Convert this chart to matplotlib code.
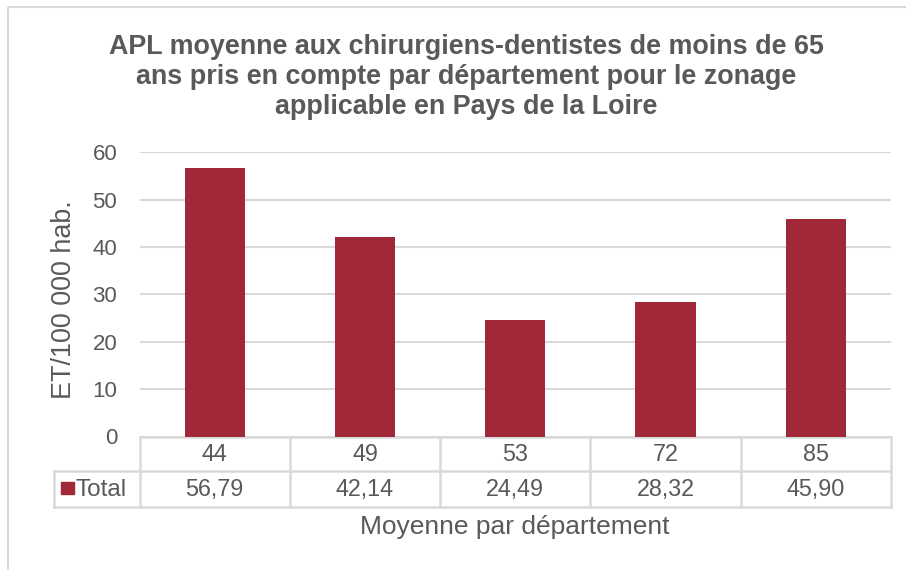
import matplotlib
matplotlib.use("Agg")
import matplotlib.pyplot as plt
from matplotlib.transforms import blended_transform_factory
from matplotlib.patches import Rectangle

departements = ["44", "49", "53", "72", "85"]
valeurs = [56.79, 42.14, 24.49, 28.32, 45.90]
serie = "Total"
titre = ("APL moyenne aux chirurgiens-dentistes de moins de 65\n"
         "ans pris en compte par département pour le zonage\n"
         "applicable en Pays de la Loire")
ylabel = "ET/100 000 hab."
xlabel = "Moyenne par département"
yticks = [0, 10, 20, 30, 40, 50, 60]

plt.rcParams['font.family'] = ['Liberation Sans', 'DejaVu Sans']
TXT = "#595959"
GRID = "#d9d9d9"
BAR = "#A12838"
FS = 16
FS_TAB = 16.8

W, H = 906, 570
fig = plt.figure(figsize=(W / 100, H / 100), dpi=100)

# overlay in pixel coordinates
ov = fig.add_axes([0, 0, 1, 1])
ov.set_xlim(0, W)
ov.set_ylim(H, 0)
ov.axis("off")

x0, x1 = 139.5, 891
ytop, ybot = 152.3, 436.5
ax = fig.add_axes([x0 / W, (H - ybot) / H, (x1 - x0) / W, (ybot - ytop) / H])
xs = list(range(len(departements)))
ax.bar(xs, valeurs, width=0.4, color=BAR, zorder=3)
ax.set_xlim(-0.5, len(departements) - 0.5)
ax.set_ylim(0, 60)
ax.set_yticks(yticks)
ax.set_yticklabels([str(t) for t in yticks], fontsize=FS, color=TXT)
ax.tick_params(axis="y", length=0, pad=16)
ax.set_xticks([])
ax.grid(axis="y", color=GRID, linewidth=1.5, zorder=0)
for s in ax.spines.values():
    s.set_visible(False)
ax.patch.set_alpha(0)

# outer border (top and left only visible)
ov.plot([7.5, W], [7, 7], color=GRID, lw=1.5, solid_capstyle="butt")
ov.plot([7.5, 7.5], [7, H], color=GRID, lw=1.5, solid_capstyle="butt")

# title
ov.text(466, 77, titre, ha="center", va="center", fontsize=19.4,
        fontweight="bold", color=TXT, linespacing=1.2)

# y label
ov.text(64, 300, ylabel, ha="center", va="center", rotation=90,
        fontsize=19.4, color=TXT)

# data table
tr = blended_transform_factory(ax.transData, ov.transData)
r0, r1, r2 = 437, 470.7, 506.7
lk = dict(color=GRID, lw=1.8, solid_capstyle="projecting")
n = len(departements)
ov.plot([-0.5, n - 0.5], [r0, r0], transform=tr, **lk)
ov.plot([54, x1], [r1, r1], **lk)
ov.plot([54, x1], [r2, r2], **lk)
for b in range(n + 1):
    ov.plot([b - 0.5, b - 0.5], [r0, r2], transform=tr, **lk)
ov.plot([54, 54], [r1, r2], **lk)
for i, (d, v) in enumerate(zip(departements, valeurs)):
    ov.text(i, (r0 + r1) / 2 + 1, d, transform=tr, ha="center", va="center",
            fontsize=FS_TAB, color=TXT)
    ov.text(i, (r1 + r2) / 2 + 1, f"{v:.2f}".replace(".", ","), transform=tr,
            ha="center", va="center", fontsize=FS_TAB, color=TXT)
ov.add_patch(Rectangle((61, 482), 13, 12, color=BAR))
ov.text(75, (r1 + r2) / 2 + 1, serie, ha="left", va="center", fontsize=17.5, color=TXT)

# x label
ov.text(515, 527, xlabel, ha="center", va="center", fontsize=19, color=TXT)

fig.savefig("out.png", dpi=100)
